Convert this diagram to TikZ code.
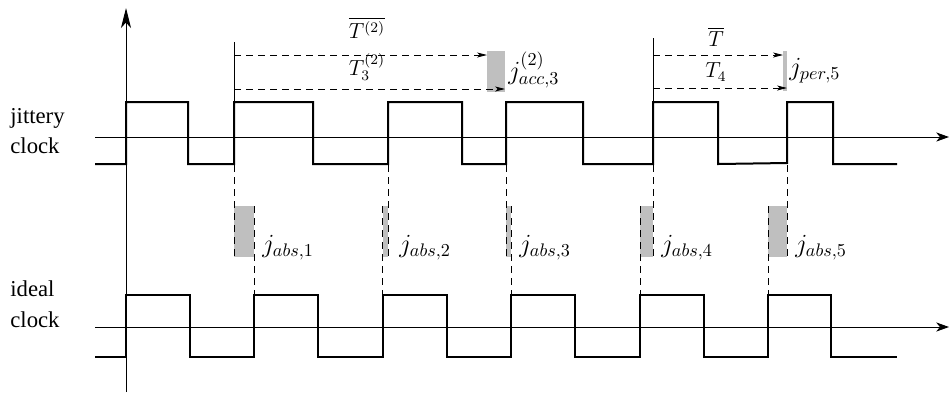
\documentclass[tikz,border=0pt]{standalone}
\usepackage{fontspec}
\setmainfont{Liberation Serif}
\usetikzlibrary{arrows.meta}
\begin{document}
\begin{tikzpicture}[x=0.55pt,y=-0.55pt,
 wave/.style={line width=1.1pt, line join=miter},
 axisline/.style={line width=0.5pt},
 guide/.style={line width=0.5pt, dash pattern=on 4pt off 2.6pt},
 darrow/.style={guide,-{Stealth[length=5.5pt,width=2.8pt,inset=1.5pt]}},
 jbox/.style={fill=black!25, draw=none},
 lbl/.style={font=\fontsize{12}{14}\selectfont, inner sep=0pt},
 jlbl/.style={font=\fontsize{14.2}{16}\selectfont, inner sep=0pt, anchor=west},
 txt/.style={font=\fontsize{12.5}{15}\selectfont, inner sep=0pt, anchor=base west},
]
\useasboundingbox (0,0) rectangle (950,392);

% gray jitter boxes (drawn first)
\fill[jbox] (234,206) rectangle (254,257);
\fill[jbox] (382.5,206) rectangle (388,257);
\fill[jbox] (506,206) rectangle (511,257);
\fill[jbox] (640,206) rectangle (653,257);
\fill[jbox] (768,206) rectangle (787,257);
\fill[jbox] (487,51) rectangle (505,92);
\fill[jbox] (783,51) rectangle (787,91);

% axes
\coordinate (vb) at (126,392); \coordinate (vt) at (126,8);
\draw[axisline,-{Stealth[length=11pt,width=5.5pt,inset=3pt]}] (vb) -- (vt);
\coordinate (j0) at (95,137); \coordinate (j1) at (949,137);
\draw[axisline,-{Stealth[length=7pt,width=5pt,inset=2pt]}] (j0) -- (j1);
\coordinate (i0) at (95,327); \coordinate (i1) at (949,327);
\draw[axisline,-{Stealth[length=7pt,width=5pt,inset=2pt]}] (i0) -- (i1);

% jittery clock
\draw[wave] (95,164) -- (126,164) -- (126,102) -- (188,102) -- (188,164)
  -- (234,164) -- (234,102) -- (313,102) -- (313,164)
  -- (388,164) -- (388,102) -- (462,102) -- (462,164)
  -- (506,164) -- (506,102) -- (583,102) -- (583,164)
  -- (653,164) -- (653,102) -- (718,102) -- (718,164)
  -- (787,163) -- (787,102) -- (833,102) -- (833,164) -- (897,164);

% ideal clock
\draw[wave] (95,357) -- (126,357) -- (126,295) -- (190,295) -- (190,357)
  -- (254,357) -- (254,295) -- (318,295) -- (318,357)
  -- (382.5,357) -- (382.5,295) -- (446.5,295) -- (446.5,357)
  -- (511,357) -- (511,295) -- (575,295) -- (575,357)
  -- (640,357) -- (640,295) -- (704,295) -- (704,357)
  -- (768,357) -- (768,295) -- (831,295) -- (831,357) -- (897,357);

% dashed guides from jittery rising edges
\foreach \x in {234,388,506,653,787}{
  \draw[guide] (\x,165) -- (\x,257);
}
% dashed guides from ideal rising edges
\foreach \x in {254,382.5,511,640,768}{
  \draw[guide] (\x,206) -- (\x,295);
}

% labels on left
\node[txt] (jl1) at (10,123) {jittery};
\node[txt] (jl2) at (10,153) {clock};
\node[txt] (il1) at (10,296) {ideal};
\node[txt] (il2) at (10,327) {clock};

% absolute jitter labels
\node[jlbl] (ja1) at (262,248) {$j_{abs,1}$};
\node[jlbl] (ja2) at (399,248) {$j_{abs,2}$};
\node[jlbl] (ja3) at (519,248) {$j_{abs,3}$};
\node[jlbl] (ja4) at (661,248) {$j_{abs,4}$};
\node[jlbl] (ja5) at (795,248) {$j_{abs,5}$};

% accumulated jitter period arrows
\coordinate (a0) at (234,42); \coordinate (a1) at (234,102);
\draw[axisline] (a0) -- (a1);
\coordinate (a2) at (234,55); \coordinate (a3) at (487,55);
\draw[darrow] (a2) -- (a3);
\coordinate (a4) at (234,89); \coordinate (a5) at (505,89);
\draw[darrow] (a4) -- (a5);
\node[lbl] (tbar2) at (367,28) {$\overline{T^{(2)}}$};
\node[lbl] (t32) at (367,67) {$T_3^{(2)}$};
\node[jlbl] (jacc) at (508,70) {$j_{acc,3}^{(2)}$};

% period jitter arrows
\coordinate (b0) at (653,38); \coordinate (b1) at (653,102);
\draw[axisline] (b0) -- (b1);
\coordinate (b2) at (653,55); \coordinate (b3) at (783,55);
\draw[darrow] (b2) -- (b3);
\coordinate (b4) at (653,88); \coordinate (b5) at (787,88);
\draw[darrow] (b4) -- (b5);
\node[lbl] (tbar) at (716,37) {$\overline{T}$};
\node[lbl] (t4) at (716,72) {$T_4$};
\node[jlbl] (jper) at (789,71) {$j_{per,5}$};
\end{tikzpicture}
\end{document}
